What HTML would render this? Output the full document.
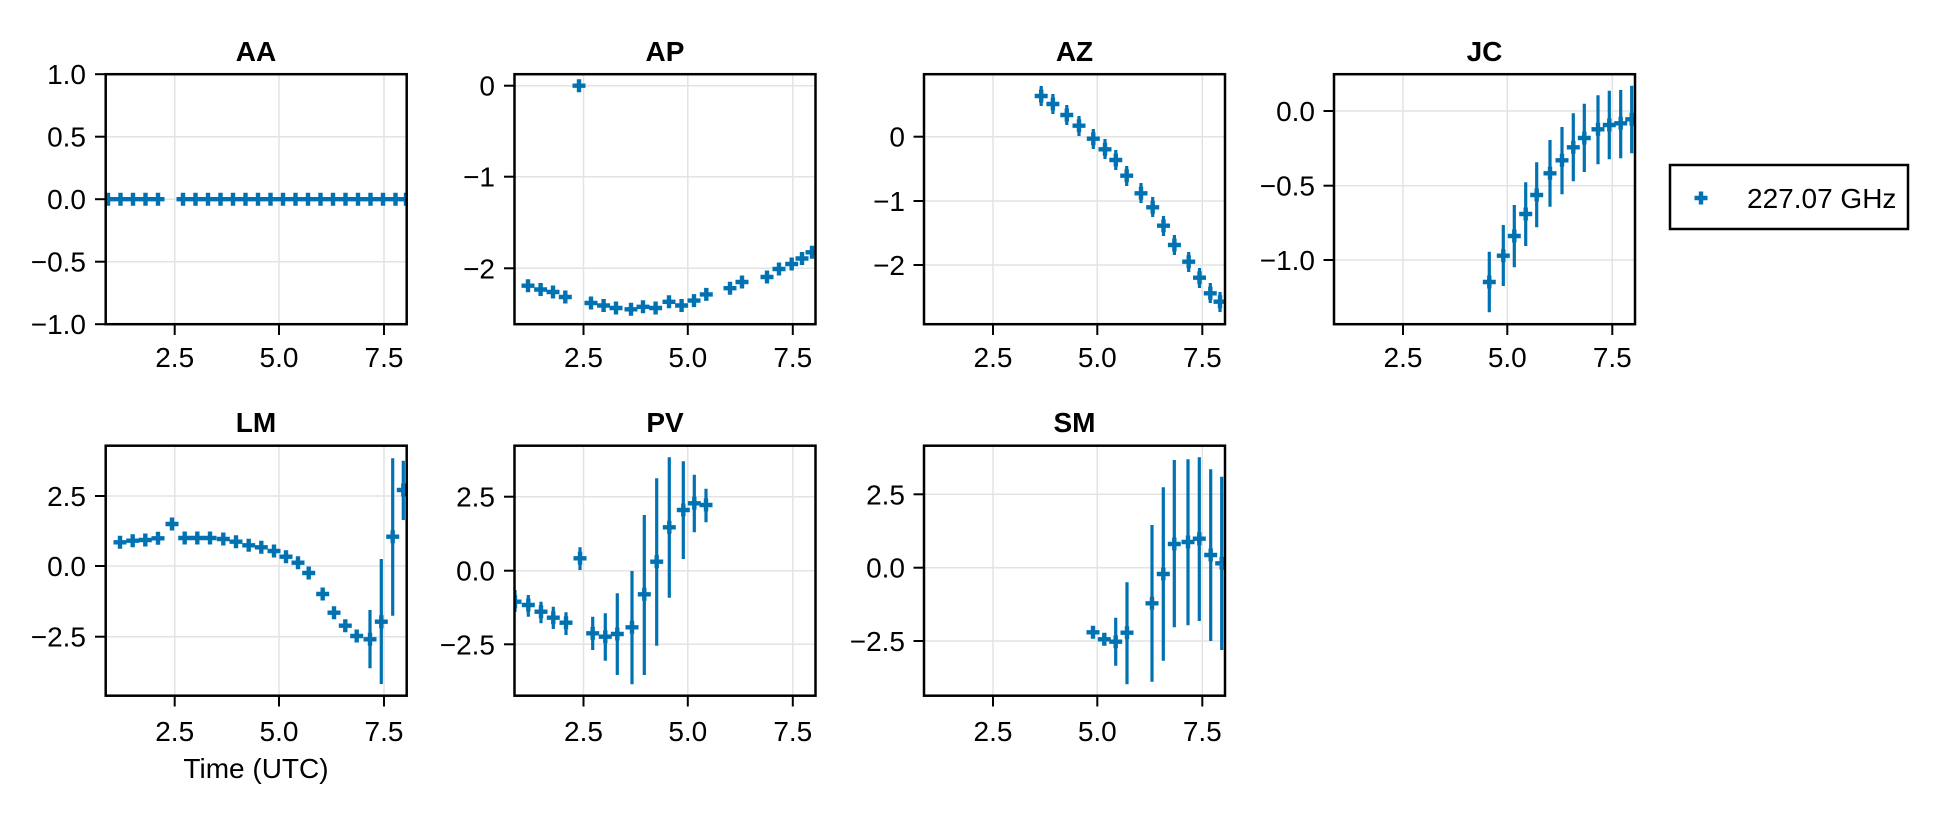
<!DOCTYPE html>
<html><head><meta charset="utf-8"><style>
html,body{margin:0;padding:0;background:#fff;}
svg text{font-family:"Liberation Sans",Arial,sans-serif;font-size:28px;fill:#000;}
.t{font-weight:bold;text-anchor:middle;}
.xl{text-anchor:middle;}
.yl{text-anchor:end;}
.g{stroke:#e3e3e3;stroke-width:1.5;}
.f{fill:none;stroke:#000;stroke-width:2.5;}
.k{stroke:#000;stroke-width:2;}
.e{stroke:#0072b2;stroke-width:3.2;}
</style></head><body>
<svg width="1940" height="814" xmlns="http://www.w3.org/2000/svg" xmlns:xlink="http://www.w3.org/1999/xlink">
<defs>
<path id="m" d="M-6.5,0H6.5M0,-6.5V6.5" stroke="#0072b2" stroke-width="4.4"/>
<clipPath id="c1"><rect x="105.7" y="74.2" width="301" height="250"/></clipPath>
<clipPath id="c2"><rect x="514.5" y="74.2" width="301" height="250"/></clipPath>
<clipPath id="c3"><rect x="924" y="74.2" width="301" height="250"/></clipPath>
<clipPath id="c4"><rect x="1334" y="74.2" width="301" height="250"/></clipPath>
<clipPath id="c5"><rect x="105.7" y="445.7" width="301" height="250"/></clipPath>
<clipPath id="c6"><rect x="514.5" y="445.7" width="301" height="250"/></clipPath>
<clipPath id="c7"><rect x="924" y="445.7" width="301" height="250"/></clipPath>
</defs>

<!-- AA -->
<g>
<line class="g" x1="174.7" y1="74.2" x2="174.7" y2="324.2"/><line class="g" x1="279" y1="74.2" x2="279" y2="324.2"/><line class="g" x1="384" y1="74.2" x2="384" y2="324.2"/>
<line class="g" x1="105.7" y1="136.7" x2="406.7" y2="136.7"/><line class="g" x1="105.7" y1="199.2" x2="406.7" y2="199.2"/><line class="g" x1="105.7" y1="261.7" x2="406.7" y2="261.7"/>
<g clip-path="url(#c1)">
<use xlink:href="#m" x="108" y="199.2"/><use xlink:href="#m" x="120.5" y="199.2"/><use xlink:href="#m" x="133" y="199.2"/><use xlink:href="#m" x="145.5" y="199.2"/><use xlink:href="#m" x="158" y="199.2"/>
<use xlink:href="#m" x="183" y="199.2"/><use xlink:href="#m" x="195.5" y="199.2"/><use xlink:href="#m" x="208" y="199.2"/><use xlink:href="#m" x="220.5" y="199.2"/><use xlink:href="#m" x="233" y="199.2"/><use xlink:href="#m" x="245.5" y="199.2"/><use xlink:href="#m" x="258" y="199.2"/><use xlink:href="#m" x="270.5" y="199.2"/><use xlink:href="#m" x="283" y="199.2"/><use xlink:href="#m" x="295.5" y="199.2"/><use xlink:href="#m" x="308" y="199.2"/><use xlink:href="#m" x="320.5" y="199.2"/><use xlink:href="#m" x="333" y="199.2"/><use xlink:href="#m" x="345.5" y="199.2"/><use xlink:href="#m" x="358" y="199.2"/><use xlink:href="#m" x="370.5" y="199.2"/><use xlink:href="#m" x="383" y="199.2"/><use xlink:href="#m" x="395.5" y="199.2"/><use xlink:href="#m" x="406" y="199.2"/>
</g>
<rect class="f" x="105.7" y="74.2" width="301" height="250"/>
<line class="k" x1="95" y1="74.2" x2="105.7" y2="74.2"/><line class="k" x1="95" y1="136.7" x2="105.7" y2="136.7"/><line class="k" x1="95" y1="199.2" x2="105.7" y2="199.2"/><line class="k" x1="95" y1="261.7" x2="105.7" y2="261.7"/><line class="k" x1="95" y1="324.2" x2="105.7" y2="324.2"/>
<line class="k" x1="174.7" y1="324.2" x2="174.7" y2="335"/><line class="k" x1="279" y1="324.2" x2="279" y2="335"/><line class="k" x1="384" y1="324.2" x2="384" y2="335"/>
<text class="yl" x="86" y="84">1.0</text><text class="yl" x="86" y="146.7">0.5</text><text class="yl" x="86" y="209">0.0</text><text class="yl" x="86" y="271.7">−0.5</text><text class="yl" x="86" y="334">−1.0</text>
<text class="xl" x="174.7" y="367">2.5</text><text class="xl" x="279" y="367">5.0</text><text class="xl" x="384" y="367">7.5</text>
<text class="t" x="256" y="61">AA</text>
</g>

<!-- AP -->
<g>
<line class="g" x1="583.5" y1="74.2" x2="583.5" y2="324.2"/><line class="g" x1="687.8" y1="74.2" x2="687.8" y2="324.2"/><line class="g" x1="792.8" y1="74.2" x2="792.8" y2="324.2"/>
<line class="g" x1="514.5" y1="85.7" x2="815.5" y2="85.7"/><line class="g" x1="514.5" y1="176.7" x2="815.5" y2="176.7"/><line class="g" x1="514.5" y1="268.3" x2="815.5" y2="268.3"/>
<g clip-path="url(#c2)">
<use xlink:href="#m" x="579" y="85.7"/>
<use xlink:href="#m" x="528" y="285.7"/><use xlink:href="#m" x="540.6" y="289.5"/><use xlink:href="#m" x="553" y="292"/><use xlink:href="#m" x="565.3" y="297"/>
<use xlink:href="#m" x="591" y="303"/><use xlink:href="#m" x="603.6" y="305.5"/><use xlink:href="#m" x="616" y="308"/><use xlink:href="#m" x="631" y="309.3"/><use xlink:href="#m" x="643" y="306.8"/><use xlink:href="#m" x="655.6" y="308"/><use xlink:href="#m" x="669" y="301.8"/><use xlink:href="#m" x="681.6" y="305.5"/><use xlink:href="#m" x="694" y="300.6"/><use xlink:href="#m" x="706.3" y="294.4"/>
<use xlink:href="#m" x="730" y="288.2"/><use xlink:href="#m" x="742" y="282"/><use xlink:href="#m" x="767" y="277"/><use xlink:href="#m" x="779" y="269"/><use xlink:href="#m" x="791.7" y="264"/><use xlink:href="#m" x="802" y="258.5"/><use xlink:href="#m" x="812" y="252.3"/>
</g>
<rect class="f" x="514.5" y="74.2" width="301" height="250"/>
<line class="k" x1="504" y1="85.7" x2="514.5" y2="85.7"/><line class="k" x1="504" y1="176.7" x2="514.5" y2="176.7"/><line class="k" x1="504" y1="268.3" x2="514.5" y2="268.3"/>
<line class="k" x1="583.5" y1="324.2" x2="583.5" y2="335"/><line class="k" x1="687.8" y1="324.2" x2="687.8" y2="335"/><line class="k" x1="792.8" y1="324.2" x2="792.8" y2="335"/>
<text class="yl" x="495" y="95.7">0</text><text class="yl" x="495" y="186.7">−1</text><text class="yl" x="495" y="278.3">−2</text>
<text class="xl" x="583.5" y="367">2.5</text><text class="xl" x="687.8" y="367">5.0</text><text class="xl" x="792.8" y="367">7.5</text>
<text class="t" x="665" y="61">AP</text>
</g>

<!-- AZ -->
<g>
<line class="g" x1="993" y1="74.2" x2="993" y2="324.2"/><line class="g" x1="1097.3" y1="74.2" x2="1097.3" y2="324.2"/><line class="g" x1="1202.3" y1="74.2" x2="1202.3" y2="324.2"/>
<line class="g" x1="924" y1="136.7" x2="1225" y2="136.7"/><line class="g" x1="924" y1="201" x2="1225" y2="201"/><line class="g" x1="924" y1="265" x2="1225" y2="265"/>
<g clip-path="url(#c3)">
<path class="e" d="M1041.2,86V106M1052.9,94V114M1066.8,105V125M1079,116V136M1093.3,129V149M1105,139V159M1115.8,150V170M1126.7,166V186M1141,183V203M1152.7,197V217M1163.5,216V236M1174.4,235V255M1188.7,252V272M1199.5,268V288M1210.3,283V303M1220,292V312"/>
<use xlink:href="#m" x="1041.2" y="96"/><use xlink:href="#m" x="1052.9" y="104"/><use xlink:href="#m" x="1066.8" y="115"/><use xlink:href="#m" x="1079" y="125.7"/><use xlink:href="#m" x="1093.3" y="138.7"/><use xlink:href="#m" x="1105" y="149.3"/><use xlink:href="#m" x="1115.8" y="160"/><use xlink:href="#m" x="1126.7" y="175.7"/><use xlink:href="#m" x="1141" y="193.3"/><use xlink:href="#m" x="1152.7" y="207.3"/><use xlink:href="#m" x="1163.5" y="225.7"/><use xlink:href="#m" x="1174.4" y="245"/><use xlink:href="#m" x="1188.7" y="261.7"/><use xlink:href="#m" x="1199.5" y="277.7"/><use xlink:href="#m" x="1210.3" y="293.3"/><use xlink:href="#m" x="1220" y="301.7"/>
</g>
<rect class="f" x="924" y="74.2" width="301" height="250"/>
<line class="k" x1="913.5" y1="136.7" x2="924" y2="136.7"/><line class="k" x1="913.5" y1="201" x2="924" y2="201"/><line class="k" x1="913.5" y1="265" x2="924" y2="265"/>
<line class="k" x1="993" y1="324.2" x2="993" y2="335"/><line class="k" x1="1097.3" y1="324.2" x2="1097.3" y2="335"/><line class="k" x1="1202.3" y1="324.2" x2="1202.3" y2="335"/>
<text class="yl" x="905" y="146.7">0</text><text class="yl" x="905" y="211">−1</text><text class="yl" x="905" y="275">−2</text>
<text class="xl" x="993" y="367">2.5</text><text class="xl" x="1097.3" y="367">5.0</text><text class="xl" x="1202.3" y="367">7.5</text>
<text class="t" x="1074.5" y="61">AZ</text>
</g>

<!-- JC -->
<g>
<line class="g" x1="1403" y1="74.2" x2="1403" y2="324.2"/><line class="g" x1="1507.3" y1="74.2" x2="1507.3" y2="324.2"/><line class="g" x1="1612.3" y1="74.2" x2="1612.3" y2="324.2"/>
<line class="g" x1="1334" y1="111" x2="1635" y2="111"/><line class="g" x1="1334" y1="185.7" x2="1635" y2="185.7"/><line class="g" x1="1334" y1="260" x2="1635" y2="260"/>
<g clip-path="url(#c4)">
<path class="e" d="M1489.3,251.7V312.3M1503.3,225V286M1514.3,205V267.3M1525.7,182.3V246M1536.7,162.3V227.3M1550,140V206.7M1562,127V194.3M1573.3,113.3V181.3M1584.3,103.7V172M1598,95.3V164.3M1609.3,90.7V159.3M1620.7,90V158.3M1631.7,85.7V153.3"/>
<use xlink:href="#m" x="1489.3" y="282"/><use xlink:href="#m" x="1503.3" y="255.7"/><use xlink:href="#m" x="1514.3" y="236"/><use xlink:href="#m" x="1525.7" y="214"/><use xlink:href="#m" x="1536.7" y="195"/><use xlink:href="#m" x="1550" y="173.3"/><use xlink:href="#m" x="1562" y="160.3"/><use xlink:href="#m" x="1573.3" y="147.3"/><use xlink:href="#m" x="1584.3" y="138"/><use xlink:href="#m" x="1598" y="129.3"/><use xlink:href="#m" x="1609.3" y="125"/><use xlink:href="#m" x="1620.7" y="123.3"/><use xlink:href="#m" x="1631.7" y="119.3"/>
</g>
<rect class="f" x="1334" y="74.2" width="301" height="250"/>
<line class="k" x1="1323.5" y1="111" x2="1334" y2="111"/><line class="k" x1="1323.5" y1="185.7" x2="1334" y2="185.7"/><line class="k" x1="1323.5" y1="260" x2="1334" y2="260"/>
<line class="k" x1="1403" y1="324.2" x2="1403" y2="335"/><line class="k" x1="1507.3" y1="324.2" x2="1507.3" y2="335"/><line class="k" x1="1612.3" y1="324.2" x2="1612.3" y2="335"/>
<text class="yl" x="1315" y="121">0.0</text><text class="yl" x="1315" y="195.7">−0.5</text><text class="yl" x="1315" y="270">−1.0</text>
<text class="xl" x="1403" y="367">2.5</text><text class="xl" x="1507.3" y="367">5.0</text><text class="xl" x="1612.3" y="367">7.5</text>
<text class="t" x="1484.5" y="61">JC</text>
</g>

<!-- LM -->
<g>
<line class="g" x1="174.7" y1="445.7" x2="174.7" y2="695.7"/><line class="g" x1="279" y1="445.7" x2="279" y2="695.7"/><line class="g" x1="384" y1="445.7" x2="384" y2="695.7"/>
<line class="g" x1="105.7" y1="496" x2="406.7" y2="496"/><line class="g" x1="105.7" y1="566" x2="406.7" y2="566"/><line class="g" x1="105.7" y1="636.7" x2="406.7" y2="636.7"/>
<g clip-path="url(#c5)">
<path class="e" d="M370,610V668.3M381.3,559V684M392.7,458.3V615.7M403.3,460.7V520"/>
<use xlink:href="#m" x="120" y="542.3"/><use xlink:href="#m" x="132.7" y="540.7"/><use xlink:href="#m" x="145.3" y="540"/><use xlink:href="#m" x="158" y="538.3"/><use xlink:href="#m" x="172" y="524"/><use xlink:href="#m" x="184.7" y="538"/><use xlink:href="#m" x="197.3" y="538"/><use xlink:href="#m" x="210" y="538"/><use xlink:href="#m" x="223.3" y="539"/><use xlink:href="#m" x="236" y="541.7"/><use xlink:href="#m" x="248.7" y="545.3"/><use xlink:href="#m" x="261.3" y="547.3"/><use xlink:href="#m" x="274" y="551"/><use xlink:href="#m" x="286" y="556.7"/><use xlink:href="#m" x="298" y="562.7"/><use xlink:href="#m" x="308.7" y="573"/><use xlink:href="#m" x="322.7" y="594"/><use xlink:href="#m" x="334" y="612.7"/><use xlink:href="#m" x="345.3" y="625.7"/><use xlink:href="#m" x="356.7" y="636"/><use xlink:href="#m" x="370" y="639.3"/><use xlink:href="#m" x="381.3" y="621.7"/><use xlink:href="#m" x="392.7" y="536.7"/><use xlink:href="#m" x="403.3" y="490"/>
</g>
<rect class="f" x="105.7" y="445.7" width="301" height="250"/>
<line class="k" x1="95" y1="496" x2="105.7" y2="496"/><line class="k" x1="95" y1="566" x2="105.7" y2="566"/><line class="k" x1="95" y1="636.7" x2="105.7" y2="636.7"/>
<line class="k" x1="174.7" y1="695.7" x2="174.7" y2="706.5"/><line class="k" x1="279" y1="695.7" x2="279" y2="706.5"/><line class="k" x1="384" y1="695.7" x2="384" y2="706.5"/>
<text class="yl" x="86" y="506">2.5</text><text class="yl" x="86" y="576">0.0</text><text class="yl" x="86" y="646.7">−2.5</text>
<text class="xl" x="174.7" y="741">2.5</text><text class="xl" x="279" y="741">5.0</text><text class="xl" x="384" y="741">7.5</text>
<text class="t" x="256" y="432">LM</text>
<text class="xl" x="256" y="778">Time (UTC)</text>
</g>

<!-- PV -->
<g>
<line class="g" x1="583.5" y1="445.7" x2="583.5" y2="695.7"/><line class="g" x1="687.8" y1="445.7" x2="687.8" y2="695.7"/><line class="g" x1="792.8" y1="445.7" x2="792.8" y2="695.7"/>
<line class="g" x1="514.5" y1="496.7" x2="815.5" y2="496.7"/><line class="g" x1="514.5" y1="570.7" x2="815.5" y2="570.7"/><line class="g" x1="514.5" y1="644.3" x2="815.5" y2="644.3"/>
<g clip-path="url(#c6)">
<path class="e" d="M515,590V611.7M528.3,595V616.7M541,601.7V623.3M553.3,606.7V629M566,612.3V635M580,547.3V570M592.7,616.7V650M605.3,613.3V660.7M617.3,593.3V675M632,571V684.3M644.3,515V675M656.7,478.3V645.7M669.3,457.3V597.7M683.3,461.3V559M694.3,474.7V532.3M706,488.7V522.3"/>
<use xlink:href="#m" x="515" y="601.7"/><use xlink:href="#m" x="528.3" y="605"/><use xlink:href="#m" x="541" y="611.7"/><use xlink:href="#m" x="553.3" y="617.7"/><use xlink:href="#m" x="566" y="622.7"/><use xlink:href="#m" x="580" y="558.3"/><use xlink:href="#m" x="592.7" y="633.3"/><use xlink:href="#m" x="605.3" y="636.7"/><use xlink:href="#m" x="617.3" y="634"/><use xlink:href="#m" x="632" y="627.3"/><use xlink:href="#m" x="644.3" y="594.3"/><use xlink:href="#m" x="656.7" y="561.7"/><use xlink:href="#m" x="669.3" y="527.3"/><use xlink:href="#m" x="683.3" y="510"/><use xlink:href="#m" x="694.3" y="503.3"/><use xlink:href="#m" x="706" y="505"/>
</g>
<rect class="f" x="514.5" y="445.7" width="301" height="250"/>
<line class="k" x1="504" y1="496.7" x2="514.5" y2="496.7"/><line class="k" x1="504" y1="570.7" x2="514.5" y2="570.7"/><line class="k" x1="504" y1="644.3" x2="514.5" y2="644.3"/>
<line class="k" x1="583.5" y1="695.7" x2="583.5" y2="706.5"/><line class="k" x1="687.8" y1="695.7" x2="687.8" y2="706.5"/><line class="k" x1="792.8" y1="695.7" x2="792.8" y2="706.5"/>
<text class="yl" x="495" y="506.7">2.5</text><text class="yl" x="495" y="580.7">0.0</text><text class="yl" x="495" y="654.3">−2.5</text>
<text class="xl" x="583.5" y="741">2.5</text><text class="xl" x="687.8" y="741">5.0</text><text class="xl" x="792.8" y="741">7.5</text>
<text class="t" x="665" y="432">PV</text>
</g>

<!-- SM -->
<g>
<line class="g" x1="993" y1="445.7" x2="993" y2="695.7"/><line class="g" x1="1097.3" y1="445.7" x2="1097.3" y2="695.7"/><line class="g" x1="1202.3" y1="445.7" x2="1202.3" y2="695.7"/>
<line class="g" x1="924" y1="494.3" x2="1225" y2="494.3"/><line class="g" x1="924" y1="567.7" x2="1225" y2="567.7"/><line class="g" x1="924" y1="641" x2="1225" y2="641"/>
<g clip-path="url(#c7)">
<path class="e" d="M1093,626.7V638.3M1104.3,633.3V645M1115.7,617.7V665.7M1127,582.3V684.3M1152,525V681.7M1163.3,487.3V660.7M1174.3,460V627.3M1188,459.3V625.3M1199.3,457.3V621M1210.7,469.3V641M1221.7,476.7V650"/>
<use xlink:href="#m" x="1093" y="632.3"/><use xlink:href="#m" x="1104.3" y="639.3"/><use xlink:href="#m" x="1115.7" y="641.7"/><use xlink:href="#m" x="1127" y="632.7"/><use xlink:href="#m" x="1152" y="603.3"/><use xlink:href="#m" x="1163.3" y="574"/><use xlink:href="#m" x="1174.3" y="544"/><use xlink:href="#m" x="1188" y="542"/><use xlink:href="#m" x="1199.3" y="538.7"/><use xlink:href="#m" x="1210.7" y="555"/><use xlink:href="#m" x="1221.7" y="563.3"/>
</g>
<rect class="f" x="924" y="445.7" width="301" height="250"/>
<line class="k" x1="913.5" y1="494.3" x2="924" y2="494.3"/><line class="k" x1="913.5" y1="567.7" x2="924" y2="567.7"/><line class="k" x1="913.5" y1="641" x2="924" y2="641"/>
<line class="k" x1="993" y1="695.7" x2="993" y2="706.5"/><line class="k" x1="1097.3" y1="695.7" x2="1097.3" y2="706.5"/><line class="k" x1="1202.3" y1="695.7" x2="1202.3" y2="706.5"/>
<text class="yl" x="905" y="504.3">2.5</text><text class="yl" x="905" y="577.7">0.0</text><text class="yl" x="905" y="651">−2.5</text>
<text class="xl" x="993" y="741">2.5</text><text class="xl" x="1097.3" y="741">5.0</text><text class="xl" x="1202.3" y="741">7.5</text>
<text class="t" x="1074.5" y="432">SM</text>
</g>

<!-- Legend -->
<rect x="1670" y="165" width="238" height="64" fill="none" stroke="#000" stroke-width="2.5"/>
<use xlink:href="#m" x="1701" y="198"/>
<text x="1747" y="208">227.07 GHz</text>
</svg>
</body></html>
